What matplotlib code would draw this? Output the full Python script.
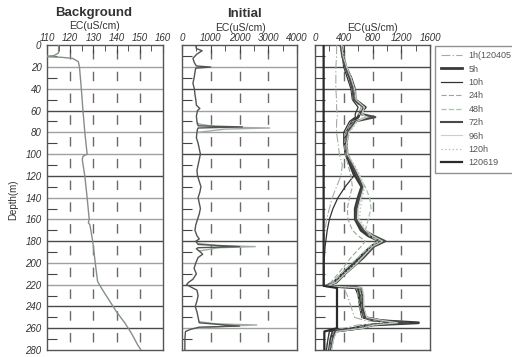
import numpy as np
import matplotlib
matplotlib.use("Agg")
import matplotlib.pyplot as plt
from matplotlib.ticker import MultipleLocator

plt.rcParams['font.family'] = ['Liberation Sans', 'DejaVu Sans']
plt.rcParams['lines.scale_dashes'] = False

# ---------------- data ----------------
bg_depth = [0, 7, 9.5, 10, 10.5, 11, 12, 15, 20, 40, 60, 80, 98, 100, 102, 105, 120, 140, 160, 163, 165,
            180, 200, 217, 225, 235, 245, 255, 265, 275, 280]
bg_ec = [115, 115, 113, 110, 110, 116, 121, 123.5, 124, 124.8, 125.5, 126.3, 127.2, 127.3, 125.5, 125.2,
         126.3, 127.3, 128.2, 127.8, 128.5, 129.7, 130.8, 131.8, 134, 137, 140, 143.5, 146.5, 149, 150.5]

init_depth = [0, 3, 5, 8, 12, 16, 19, 20, 21, 22, 25, 30, 35, 40, 45, 50, 55, 58, 60, 65, 70, 74, 75, 76, 77,
              80, 85, 90, 95, 100, 105, 110, 115, 120, 125, 130, 135, 140, 145, 150, 155, 160, 165, 170,
              175, 178, 180, 183, 185, 186, 187, 190, 192, 195, 200, 205, 210, 215, 218, 220, 222, 225,
              230, 235, 240, 245, 250, 255, 257, 258, 259, 261, 263, 270, 280]
init_ec = [480, 500, 700, 520, 380, 430, 500, 1000, 480, 470, 450, 420, 380, 430, 450, 480, 500, 620, 540,
           500, 520, 560, 2100, 560, 540, 520, 500, 560, 600, 640, 600, 560, 520, 540, 600, 660, 620, 560,
           600, 640, 600, 540, 480, 450, 520, 600, 480, 560, 2000, 560, 500, 640, 720, 560, 480, 420, 500,
           380, 220, 160, 300, 520, 560, 520, 460, 520, 560, 600, 1500, 2000, 600, 300, 120, 100, 100]

init2_depth = [72, 75, 76, 77, 80, np.nan, 182, 184, 185, 186, 189, np.nan, 254, 256, 257, 258, 260]
init2_ec = [520, 1200, 3050, 1500, 540, np.nan, 560, 1200, 2550, 1300, 600, np.nan, 600, 1200, 2600, 1600, 600]

t_depth = [0, 10, 20, 30, 40, 50, 57, 63, 66, 70, 80, 90, 100, 110, 120, 130, 140, 150, 160, 170, 175, 180,
           185, 195, 202, 210, 218, 221, 223, 230, 240, 250, 253, 255, 257, 260, 263, 270, 280]
ec_1h = [300, 300, 290, 290, 290, 300, 300, 310, 310, 300, 300, 320, 340, 380, 360, 300, 240, 200, 160, 140,
         130, 125, 120, 120, 120, 120, 120, 120, 400, 450, 500, 550, 700, 1000, 600, 400, 200, 180, 150]
ec_5h = [370, 390, 430, 500, 550, 560, 700, 620, 600, 520, 440, 420, 430, 500, 560, 650, 600, 560, 560, 640,
         740, 900, 780, 620, 520, 380, 260, 160, 600, 620, 640, 680, 900, 1440, 800, 600, 250, 220, 200]
ec_10h = [350, 380, 400, 450, 500, 520, 600, 560, 560, 480, 400, 400, 420, 480, 540, 420, 320, 250, 200, 170,
          160, 150, 140, 130, 125, 125, 125, 125, 560, 600, 620, 650, 800, 1100, 700, 500, 200, 180, 160]
ec_24h = [350, 370, 410, 470, 510, 530, 640, 600, 780, 520, 430, 410, 420, 460, 500, 520, 480, 450, 460, 520,
          600, 700, 640, 500, 420, 320, 220, 150, 580, 600, 620, 660, 850, 1200, 720, 560, 260, 230, 200]
ec_48h = [360, 380, 420, 480, 530, 550, 660, 620, 700, 540, 450, 430, 440, 520, 600, 700, 760, 780, 740, 700,
          760, 880, 760, 600, 480, 360, 250, 160, 620, 640, 650, 690, 900, 1250, 780, 620, 280, 240, 210]
ec_72h = [360, 380, 420, 480, 520, 540, 680, 640, 840, 560, 460, 440, 450, 520, 590, 670, 620, 580, 570, 680,
          820, 980, 820, 680, 560, 420, 300, 170, 640, 660, 660, 700, 950, 1300, 800, 640, 280, 250, 220]
ec_96h = [370, 390, 440, 500, 550, 570, 690, 650, 720, 580, 470, 440, 450, 540, 620, 680, 640, 600, 600, 700,
          800, 940, 800, 660, 560, 420, 290, 170, 660, 680, 680, 720, 950, 1150, 820, 660, 300, 260, 230]
ec_120h = [380, 400, 450, 510, 560, 580, 680, 660, 700, 590, 480, 450, 460, 550, 630, 690, 660, 630, 620, 720,
           790, 900, 790, 650, 540, 400, 280, 170, 650, 670, 680, 720, 920, 1100, 800, 650, 300, 260, 230]
ec_120619 = [120] * 28 + [306] * 8 + [130] * 3

series_labels = ["1h(120405", "5h", "10h", "24h", "48h", "72h", "96h", "120h", "120619"]
series_values = [ec_1h, ec_5h, ec_10h, ec_24h, ec_48h, ec_72h, ec_96h, ec_120h, ec_120619]
series_styles = [
    dict(color='#a4ada4', lw=0.8, ls='-.'),
    dict(color='#3a3a3a', lw=2.0, ls='-'),
    dict(color='#333333', lw=0.9, ls='-'),
    dict(color='#9aa59a', lw=0.8, ls='--'),
    dict(color='#a9c0a9', lw=0.9, ls='--'),
    dict(color='#4a4a4a', lw=1.5, ls='-'),
    dict(color='#c8d0c8', lw=0.8, ls='-'),
    dict(color='#b0bcb0', lw=0.9, ls=':'),
    dict(color='#2a2a2a', lw=1.6, ls='-'),
]

# ---------------- figure ----------------
W, H = 512, 357
fig = plt.figure(figsize=(W / 100, H / 100), dpi=100)

def fx(px):
    return px / W

def fy(py):
    return 1 - py / H

top_px, bot_px = 45.3, 350.0
ax_h = (bot_px - top_px) / H
panels = [
    dict(left=47, right=163, xlim=(110, 160), xmaj=10, xmin=5,
         dark=[60, 120, 180, 240, 260]),
    dict(left=182, right=297, xlim=(0, 4000), xmaj=1000, xmin=500,
         dark=[40, 100, 120, 180, 220, 240]),
    dict(left=315, right=430, xlim=(0, 1600), xmaj=400, xmin=200,
         dark=list(range(20, 280, 20))),
]

axes = []
band_px = (bot_px - top_px) / 14
pt = 0.72
on_px, off_px = 9.5, band_px - 9.5
dash = ((band_px - 4.5) * pt, (on_px * pt, off_px * pt))

for i, p in enumerate(panels):
    ax = fig.add_axes([fx(p['left']), fy(bot_px), (p['right'] - p['left']) / W, ax_h])
    ax.set_xlim(*p['xlim'])
    ax.set_ylim(280, 0)
    ax.xaxis.set_major_locator(MultipleLocator(p['xmaj']))
    ax.xaxis.set_minor_locator(MultipleLocator(p['xmin']))
    ax.yaxis.set_major_locator(MultipleLocator(20))
    ax.yaxis.set_minor_locator(MultipleLocator(10))
    ax.xaxis.tick_top()
    ax.tick_params(axis='x', which='major', direction='in', length=6, width=0.8, color='#444',
                   labelsize=7, pad=2, labelcolor='#333')
    ax.tick_params(axis='x', which='minor', direction='in', length=4, width=0.7, color='#555')
    ax.tick_params(axis='y', which='major', direction='in', length=0, labelsize=7, pad=4,
                   labelcolor='#333', labelleft=(i == 0))
    ax.tick_params(axis='y', which='minor', direction='in', length=7, width=0.8, color='#444')
    for lab in ax.get_xticklabels() + ax.get_yticklabels():
        lab.set_fontstyle('italic')
    for s in ax.spines.values():
        s.set_color('#555')
        s.set_linewidth(1.0)
    for d in range(20, 280, 20):
        c = '#4a4a4a' if d in p['dark'] else '#a0a0a0'
        ax.axhline(d, color=c, lw=1.0, zorder=1)
    xs = np.arange(p['xlim'][0] + p['xmaj'], p['xlim'][1], p['xmaj'])
    ax.vlines(xs, 0, 280, colors='#6a6a6a', linewidth=1.0, linestyles=[dash], zorder=1)
    axes.append(ax)

ax1, ax2, ax3 = axes
ax1.plot(bg_ec, bg_depth, color='#858f86', lw=1.0, zorder=3)

ax2.plot(init2_ec, init2_depth, color='#a3aca3', lw=1.0, zorder=3)
ax2.plot(init_ec, init_depth, color='#505550', lw=1.0, zorder=4)

handles = []
for lab, vals, st in zip(series_labels, series_values, series_styles):
    h, = ax3.plot(vals, t_depth, label=lab, zorder=3, **st)
    handles.append(h)

leg = fig.legend(handles=handles, loc='upper left', bbox_to_anchor=(fx(435), fy(45.5)),
                 bbox_transform=fig.transFigure, borderaxespad=0, fontsize=6.5, frameon=True,
                 fancybox=False, edgecolor='#777', handlelength=2.4, handletextpad=0.7,
                 labelspacing=0.49, borderpad=0.62)
leg.get_frame().set_linewidth(1.0)
for t in leg.get_texts():
    t.set_color('#555')

fig.text(fx(94), fy(13), "Background", ha='center', va='center', fontsize=9.5, fontweight='bold', color='#333')
fig.text(fx(94), fy(26), "EC(uS/cm)", ha='center', va='center', fontsize=7.5, color='#333')
fig.text(fx(245), fy(14), "Initial", ha='center', va='center', fontsize=9.5, fontweight='bold', color='#333')
fig.text(fx(241), fy(28), "EC(uS/cm)", ha='center', va='center', fontsize=7.5, color='#333')
fig.text(fx(372), fy(28), "EC(uS/cm)", ha='center', va='center', fontsize=7.5, color='#333')
fig.text(fx(13), fy(200), "Depth(m)", ha='center', va='center', rotation=90, fontsize=7, color='#333')

fig.savefig("out.png", dpi=100)
